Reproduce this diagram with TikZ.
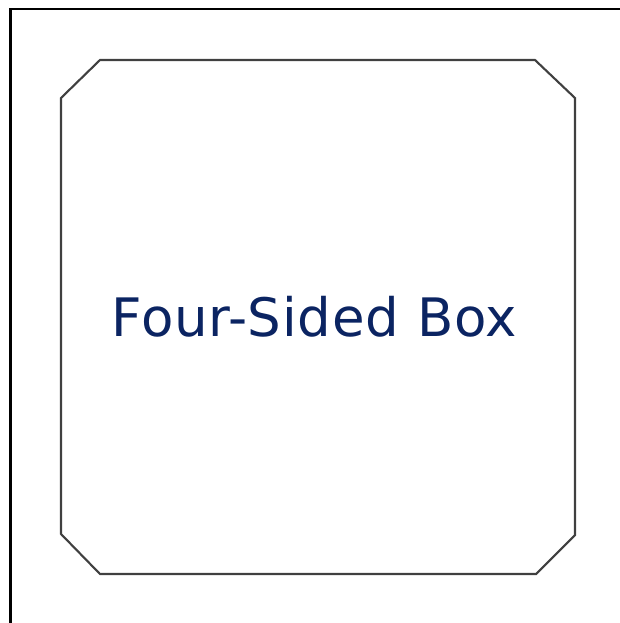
\documentclass[tikz,border=0pt]{standalone}
\usepackage{fontspec}
\setmainfont{DejaVu Sans}
\newfontfamily\labelfont[LetterSpace=1.5]{DejaVu Sans}
\definecolor{txtblue}{HTML}{0B2462}
\definecolor{boxgray}{HTML}{404040}
\begin{document}
\begin{tikzpicture}[x=1pt,y=-1pt,
  frameline/.style={draw=black,line width=2.4pt},
  boxline/.style={draw=boxgray,line width=2.1pt,line join=miter},
  label/.style={text=txtblue,font=\labelfont\fontsize{53}{60}\selectfont,inner sep=0pt,anchor=base}]
\useasboundingbox (0,0) rectangle (620,623);
\fill[white] (0,0) rectangle (620,623);
\draw[frameline] (10.5,623) -- (10.5,9) -- (620,9);
\draw[boxline] (100,60) -- (535,60) -- (575,98) -- (575,535) -- (536,574) -- (100,574) -- (61,534) -- (61,98) -- cycle;
\coordinate (c) at (314.5,336);
\node[label] (t) at (c) {Four-Sided Box};
\end{tikzpicture}
\end{document}
